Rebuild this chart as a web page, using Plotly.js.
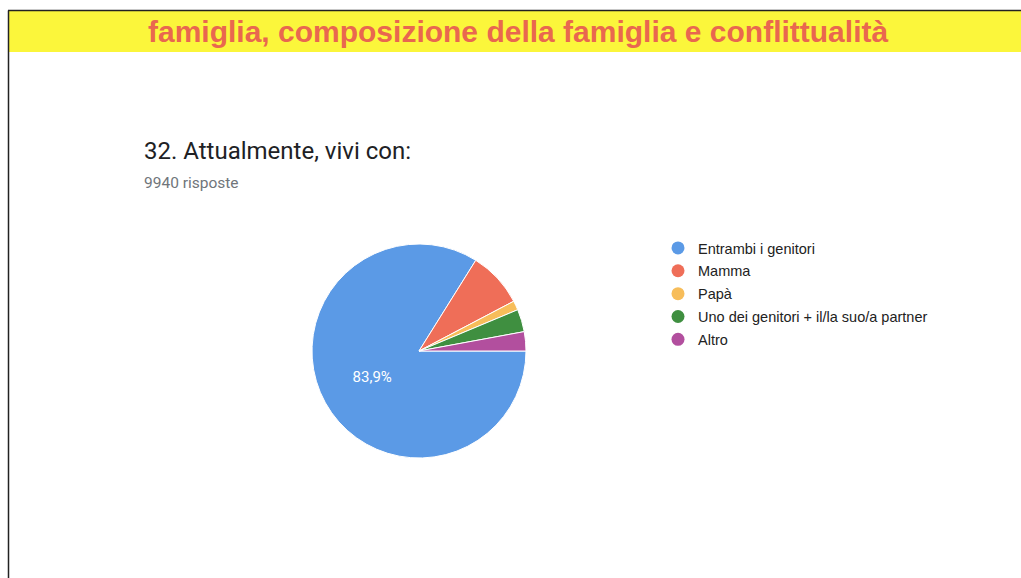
<!DOCTYPE html>
<html><head><meta charset="utf-8">
<script src="https://cdn.plot.ly/plotly-3.0.1.min.js"></script>
<style>html,body{margin:0;padding:0;background:#fff;}#chart{width:1021px;height:578px;}</style>
</head><body><div id="chart"></div>
<script>
const categories = ["Entrambi i genitori", "Mamma", "Papà", "Uno dei genitori + il/la suo/a partner", "Altro"];
const shares = [83.9, 8.4, 1.4, 3.4, 2.9];
const colors = ["#5b9ae6", "#ef6e58", "#f7bd5a", "#3f8f40", "#b24f9e"];
const bannerText = "famiglia, composizione della famiglia e conflittualità";
const questionTitle = "32. Attualmente, vivi con:";
const responsesText = "9940 risposte";

const W = 1021, H = 578;
const px = v => v / W, py = v => 1 - v / H;

const pie = {
  type: "pie",
  labels: categories,
  values: shares,
  sort: false,
  direction: "clockwise",
  rotation: 90,
  marker: {colors: colors, line: {color: "#ffffff", width: 1}},
  texttemplate: shares.map(v => v > 20 ? "%{percent:.1%}" : ""),
  textposition: "inside",
  insidetextorientation: "horizontal",
  insidetextfont: {color: "#ffffff", size: 15, family: "Roboto, Arial, sans-serif"},
  hoverinfo: "label+percent",
  showlegend: false,
  domain: {x: [px(312), px(526)], y: [py(458), py(244)]}
};

const legendTraces = categories.map((c, i) => ({
  type: "scatter", mode: "markers", x: [null], y: [null], name: c,
  marker: {color: colors[i], size: 13, symbol: "circle"},
  legendgroup: "g" + i, showlegend: true, hoverinfo: "skip"
}));

const layout = {
  width: W, height: H,
  margin: {l: 0, r: 0, t: 0, b: 0},
  paper_bgcolor: "#ffffff", plot_bgcolor: "rgba(0,0,0,0)",
  separators: ",.",
  xaxis: {visible: false, domain: [0.9, 1]},
  yaxis: {visible: false, domain: [0.9, 1]},
  showlegend: true,
  legend: {
    x: px(658), y: py(232), xanchor: "left", yanchor: "top",
    font: {family: "Arial, Liberation Sans, sans-serif", size: 14.5, color: "#222222"},
    traceorder: "grouped", tracegroupgap: 1, itemwidth: 30,
    bgcolor: "rgba(0,0,0,0)"
  },
  shapes: [
    {type: "rect", xref: "paper", yref: "paper", x0: px(9), x1: 1, y0: py(52), y1: py(11),
     fillcolor: "#fbf63b", line: {width: 0}, layer: "below"},
    {type: "line", xref: "paper", yref: "paper", x0: px(8), x1: 1, y0: py(10.5), y1: py(10.5),
     line: {color: "#222222", width: 1.5}},
    {type: "line", xref: "paper", yref: "paper", x0: px(8.5), x1: px(8.5), y0: 0, y1: py(10.5),
     line: {color: "#222222", width: 1.5}}
  ],
  annotations: [
    {text: "<b>" + bannerText + "</b>", xref: "paper", yref: "paper", x: px(518), y: py(31),
     xanchor: "center", yanchor: "middle", showarrow: false,
     font: {family: "Liberation Sans, Arial, sans-serif", size: 30, color: "#e9674f"}},
    {text: questionTitle, xref: "paper", yref: "paper", x: px(142), y: py(151),
     xanchor: "left", yanchor: "middle", showarrow: false,
     font: {family: "Roboto, sans-serif", size: 24, color: "#202124"}},
    {text: responsesText, xref: "paper", yref: "paper", x: px(142), y: py(183),
     xanchor: "left", yanchor: "middle", showarrow: false,
     font: {family: "Roboto, sans-serif", size: 15.5, color: "#70757a"}}
  ]
};

Plotly.newPlot("chart", [pie].concat(legendTraces), layout, {displayModeBar: false, staticPlot: true});
</script></body></html>
